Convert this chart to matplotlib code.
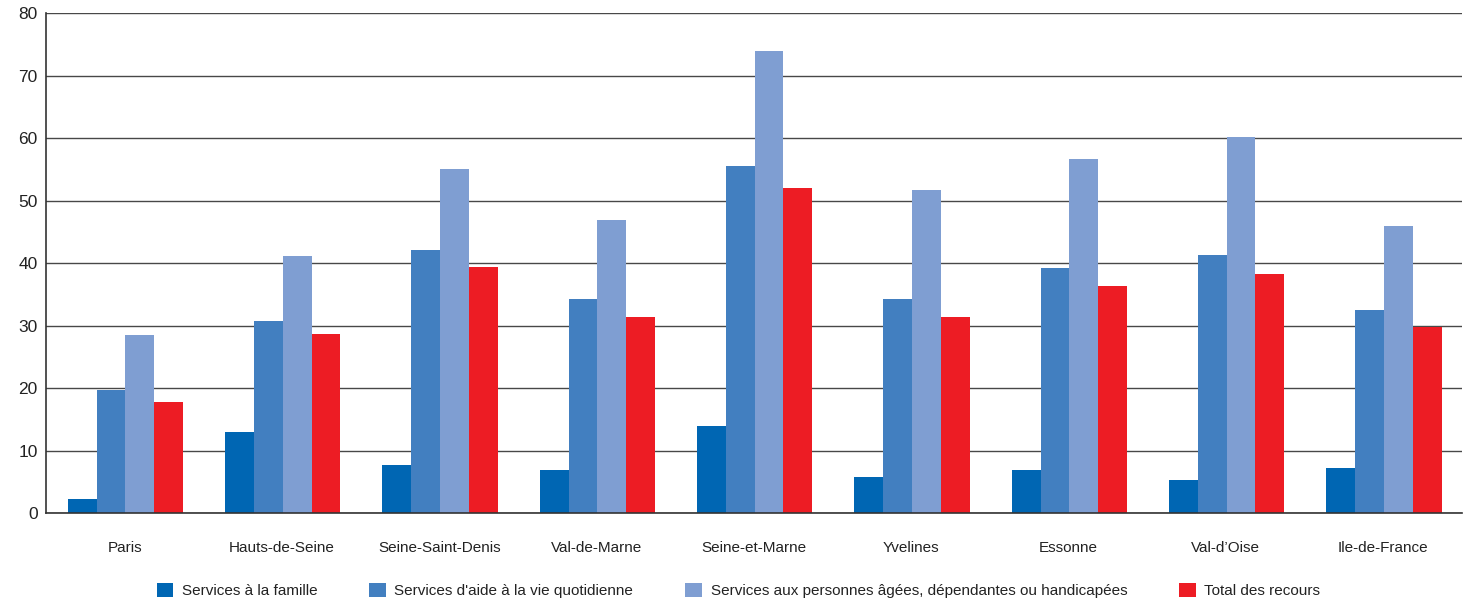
import matplotlib

matplotlib.use("Agg")

import matplotlib.pyplot as plt
import numpy as np
from matplotlib.patches import Patch

plt.rcParams["font.family"] = ["Liberation Sans", "DejaVu Sans"]

DEPARTEMENTS = [
    "Paris", "Hauts-de-Seine", "Seine-Saint-Denis", "Val-de-Marne",
    "Seine-et-Marne", "Yvelines", "Essonne", "Val-d\u2019Oise", "Ile-de-France",
]
SERIES = [
    "Services à la famille",
    "Services d'aide à la vie quotidienne",
    "Services aux personnes âgées, dépendantes ou handicapées",
    "Total des recours",
]
famille = [2.3, 13.0, 7.7, 6.9, 13.9, 5.8, 6.9, 5.3, 7.2]
vie_quotidienne = [19.7, 30.7, 42.1, 34.2, 55.5, 34.2, 39.2, 41.3, 32.5]
personnes_agees = [28.5, 41.1, 55.0, 46.9, 73.9, 51.7, 56.6, 60.1, 45.9]
total = [17.8, 28.6, 39.4, 31.4, 52.0, 31.4, 36.3, 38.2, 29.8]

COLORS = ["#0066b3", "#427fc0", "#7f9ed2", "#ed1c24"]

fig = plt.figure(figsize=(14.68, 6.05), dpi=100)
ax = fig.add_axes([0.0313, 0.152, 0.9645, 0.8265])

x = np.arange(len(DEPARTEMENTS))
width = 0.183
for i, (vals, color) in enumerate(zip([famille, vie_quotidienne, personnes_agees, total], COLORS)):
    ax.bar(x + (i - 1.5) * width + 0.005, vals, width=width, color=color, zorder=2, linewidth=0)

ax.set_xlim(-0.5, len(DEPARTEMENTS) - 0.5)
ax.set_ylim(0, 80)
ax.set_yticks(range(0, 81, 10))
ax.set_xticks(x)
ax.set_xticklabels(DEPARTEMENTS, fontsize=11, color="#222222")
ax.tick_params(axis="x", length=0, pad=20)
ax.tick_params(axis="y", length=0, pad=6, labelsize=12.5, labelcolor="#222222")
ax.yaxis.grid(True, color="#484848", lw=1.0, zorder=1)
for side in ["top", "right"]:
    ax.spines[side].set_visible(False)
for side in ["left", "bottom"]:
    ax.spines[side].set_color("#333333")
    ax.spines[side].set_linewidth(1.2)
ax.spines["bottom"].set_zorder(3)

handles = [Patch(facecolor=c, edgecolor="none") for c in COLORS]
fig.legend(
    handles, SERIES, loc="center", bbox_to_anchor=(0.503, 0.024), ncol=4,
    frameon=False, fontsize=11, handlelength=1.1, handleheight=1.1,
    handletextpad=0.55, columnspacing=3.4, labelcolor="#222222",
)

fig.savefig("out.png", dpi=100)
